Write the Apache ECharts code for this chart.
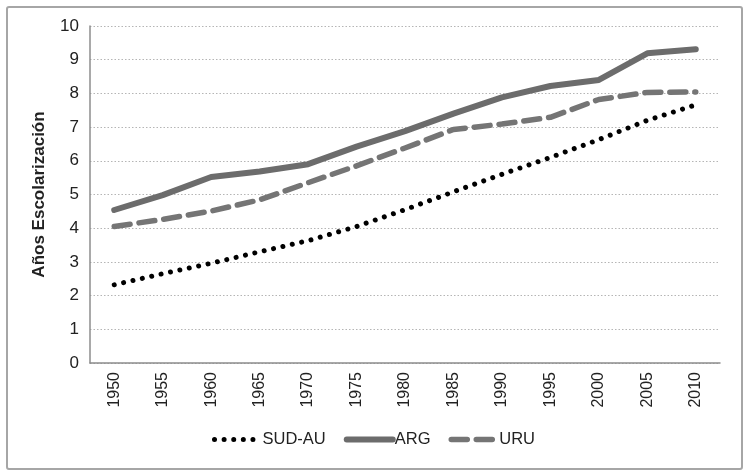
<!DOCTYPE html>
<html><head><meta charset="utf-8">
<script src="https://cdn.jsdelivr.net/npm/echarts@6/dist/echarts.min.js"></script>
<style>
html,body{margin:0;padding:0;background:#fff;}
#wrap{position:absolute;left:6px;top:6px;width:733px;height:460px;border:2px solid #a6a6a6;border-radius:3px;}
#c{position:absolute;left:0;top:0;width:747px;height:474px;}
</style></head>
<body>
<div id="wrap"></div>
<div id="c"></div>
<script>
var years = ['1950','1955','1960','1965','1970','1975','1980','1985','1990','1995','2000','2005','2010'];
var sudAu = [2.32, 2.65, 2.96, 3.3, 3.63, 4.05, 4.55, 5.08, 5.6, 6.1, 6.63, 7.2, 7.66];
var arg   = [4.54, 4.98, 5.52, 5.68, 5.9, 6.42, 6.88, 7.4, 7.88, 8.22, 8.4, 9.19, 9.31];
var uru   = [4.05, 4.26, 4.51, 4.84, 5.35, 5.85, 6.38, 6.93, 7.09, 7.29, 7.82, 8.03, 8.04];
var yTicks = [0,1,2,3,4,5,6,7,8,9,10];

var chart = echarts.init(document.getElementById('c'), null, {renderer:'canvas'});
var font = 'Liberation Sans, Arial, sans-serif';
chart.setOption({
  animation:false,
  grid:{left:90, right:27, top:26, bottom:111, containLabel:false},
  xAxis:{
    type:'category', data:years, boundaryGap:true,
    axisLine:{show:true, lineStyle:{color:'#8c8c8c', width:1.5}},
    axisTick:{show:false},
    axisLabel:{rotate:90, color:'#222', fontSize:16, fontFamily:font, margin:9, interval:0}
  },
  yAxis:{
    type:'value', min:yTicks[0], max:yTicks[yTicks.length-1], interval:1,
    name:'Años Escolarización', nameLocation:'middle', nameGap:42,
    nameTextStyle:{fontSize:17, fontWeight:'bold', color:'#222', fontFamily:font},
    axisLine:{show:true, lineStyle:{color:'#8c8c8c', width:1.5}},
    axisTick:{show:false},
    axisLabel:{color:'#222', fontSize:17, fontFamily:font, margin:11},
    splitLine:{show:true, lineStyle:{color:'#b5b5b5', type:[1.5,2], width:1}}
  },
  legend:{
    bottom:21, left:'center', itemGap:18, itemWidth:46, itemHeight:12,
    itemStyle:{opacity:0},
    lineStyle:{width:'inherit'},
    textStyle:{fontSize:16.5, color:'#222', fontFamily:font, padding:[0,0,0,-3]},
    data:['SUD-AU','ARG','URU']
  },
  series:[
    {name:'SUD-AU', type:'line', data:sudAu, symbol:'none', smooth:false,
     lineStyle:{color:'#000', width:5, type:[0.01,9.6], cap:'round'}, itemStyle:{color:'#000'}},
    {name:'ARG', type:'line', data:arg, symbol:'none',
     lineStyle:{color:'#6c6c6c', width:6, cap:'round', join:'round'}, itemStyle:{color:'#6c6c6c'}},
    {name:'URU', type:'line', data:uru, symbol:'none',
     lineStyle:{color:'#757575', width:5.5, type:[16,9], cap:'round', join:'round'}, itemStyle:{color:'#757575'}}
  ]
});
</script>
</body></html>
